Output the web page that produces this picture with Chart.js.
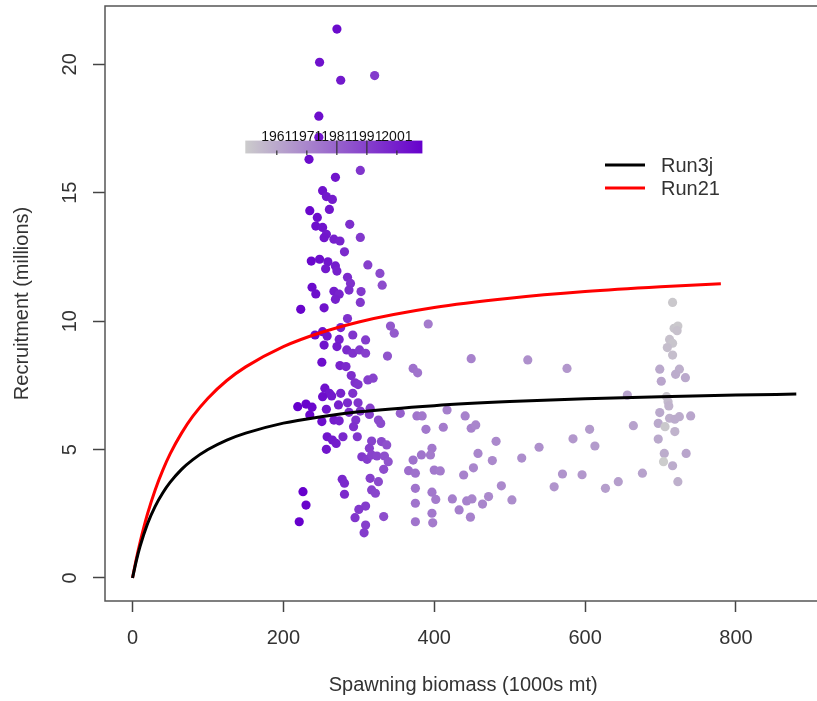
<!DOCTYPE html>
<html lang="fr">
<head>
<meta charset="utf-8">
<title>Stock-recrutement</title>
<script src="https://cdn.jsdelivr.net/npm/chart.js@4.4.1/dist/chart.umd.min.js"></script>
<style>
    html, body { margin: 0; padding: 0; background: #fff; overflow: hidden; }
    #wrap { width: 826px; height: 701px; }
</style>
</head>
<body>
<div id="wrap"><canvas id="srChart" width="826" height="701"></canvas></div>
<script>
// Données
const biomass = [
    271, 248, 276, 321, 247, 247, 234, 269, 302, 252, 257, 265, 235, 261, 245, 243, 252, 288, 257, 254,
    267, 275, 302, 281, 237, 248, 259, 256, 269, 271, 312, 328, 285, 289, 331, 238, 243, 267, 274, 269,
    287, 303, 302, 223, 254, 285, 342, 347, 242, 252, 258, 276, 292, 309, 254, 274, 271, 284, 292, 301,
    309, 338, 251, 275, 283, 290, 295, 312, 319, 372, 255, 261, 252, 276, 292, 264, 299, 219, 230, 238,
    235, 257, 273, 285, 299, 287, 302, 315, 314, 355, 251, 267, 274, 296, 293, 326, 329, 258, 265, 270,
    279, 298, 257, 317, 330, 337, 314, 304, 311, 317, 324, 334, 339, 333, 372, 366, 375, 315, 326, 278,
    281, 317, 322, 281, 375, 375, 226, 230, 221, 309, 300, 295, 333, 309, 307, 375,
    392, 378, 449, 524, 576, 377, 384, 417, 441, 389, 412, 449, 455, 482, 458, 477, 516, 539, 584, 606,
    613, 397, 395, 383, 400, 408, 439, 452, 489, 503, 559, 570, 596, 397, 402, 424, 443, 450, 464, 472,
    433, 397, 398, 448,
    716, 718, 723, 722, 712, 716, 709, 716, 699, 725, 720, 733, 701, 656, 708, 710, 711, 699, 712, 719,
    725, 740, 697, 706, 719, 664, 697, 705, 734, 704, 716, 676, 644, 627, 723
];
const recruits = [
    21.37, 20.08, 19.38, 19.56, 17.98, 17.16, 16.30, 15.60, 15.87, 15.08, 14.85, 14.74, 14.30, 14.35, 14.04, 13.70, 13.65, 13.77, 13.38, 13.25,
    13.19, 13.12, 13.26, 12.70, 12.34, 12.41, 12.31, 12.04, 12.15, 11.95, 12.19, 11.86, 11.71, 11.47, 11.40, 11.32, 11.06, 11.16, 11.05, 10.85,
    11.21, 11.15, 10.73, 10.46, 10.52, 10.10, 9.81, 9.53, 9.46, 9.59, 9.42, 9.75, 9.46, 9.27, 9.07, 9.29, 9.01, 8.88, 8.75, 8.88,
    8.75, 8.64, 8.40, 8.27, 8.23, 7.88, 7.60, 7.71, 7.78, 8.16, 7.39, 7.19, 7.06, 7.19, 7.19, 7.09, 7.53, 6.67, 6.77, 6.65,
    6.35, 6.57, 6.74, 6.82, 6.82, 6.45, 6.50, 6.61, 6.37, 6.41, 6.09, 6.15, 6.12, 6.15, 5.89, 6.15, 6.02, 5.50, 5.37, 5.24,
    5.50, 5.50, 5.01, 5.33, 5.31, 5.18, 5.05, 4.72, 4.62, 4.79, 4.75, 4.75, 4.53, 4.23, 4.59, 4.18, 4.08, 3.88, 3.75, 3.84,
    3.69, 3.43, 3.30, 3.26, 3.49, 2.91, 3.36, 2.84, 2.19, 2.80, 2.67, 2.35, 2.39, 2.06, 1.76, 2.19,
    9.89, 7.99, 8.54, 8.49, 8.16, 6.31, 6.31, 6.54, 6.31, 5.79, 5.87, 5.83, 5.96, 5.32, 4.85, 4.57, 4.67, 5.09, 5.42, 5.79,
    5.14, 5.05, 4.79, 4.79, 4.20, 4.17, 4.01, 4.29, 3.59, 3.04, 3.55, 4.05, 4.02, 3.34, 3.06, 3.08, 3.00, 3.08, 2.88, 3.17,
    2.65, 2.52, 2.15, 2.37,
    10.73, 9.72, 9.81, 9.63, 9.29, 9.14, 8.97, 8.68, 8.13, 8.13, 7.93, 7.80, 7.66, 7.12, 7.06, 6.86, 6.70, 6.44, 6.22, 6.18,
    6.28, 6.31, 6.02, 5.89, 5.70, 5.93, 5.41, 4.85, 4.85, 4.53, 4.37, 4.08, 3.75, 3.49, 3.75
];
const years = [
    2006, 2004, 2002, 1992, 2005, 2003, 2006, 2003, 1994, 2004, 2002, 2001, 2007, 2003, 2005, 2005, 2004, 1996, 2002, 2003,
    2000, 1999, 1993, 1997, 2007, 2005, 2003, 2002, 2001, 2000, 1991, 1988, 1997, 1995, 1987, 2006, 2005, 2001, 1999, 2000,
    1996, 1993, 1993, 2008, 2004, 1995, 1984, 1983, 2006, 2004, 2003, 1999, 1994, 1992, 2004, 2000, 2001, 1997, 1995, 1993,
    1991, 1985, 2005, 1999, 1997, 1996, 1995, 1991, 1990, 1977, 2004, 2002, 2005, 1999, 1995, 2002, 1994, 2009, 2008, 2007,
    2007, 2003, 2000, 1997, 1994, 1996, 1993, 1991, 1991, 1982, 2005, 2001, 2000, 1994, 1995, 1988, 1988, 2003, 2002, 2001,
    1998, 1994, 2003, 1990, 1988, 1986, 1991, 1993, 1992, 1990, 1989, 1986, 1985, 1987, 1977, 1978, 1977, 1991, 1988, 1998,
    1997, 1990, 1989, 1997, 1976, 1976, 2009, 2008, 2009, 1992, 1993, 1994, 1987, 1991, 1992, 1976,
    1974, 1976, 1972, 1968, 1966, 1976, 1975, 1973, 1972, 1975, 1974, 1972, 1971, 1970, 1971, 1970, 1969, 1968, 1966, 1965,
    1965, 1975, 1974, 1976, 1975, 1974, 1972, 1971, 1970, 1969, 1967, 1967, 1966, 1975, 1974, 1973, 1972, 1971, 1971, 1970,
    1973, 1975, 1974, 1972,
    1952, 1953, 1952, 1954, 1954, 1953, 1955, 1955, 1961, 1959, 1960, 1961, 1962, 1963, 1953, 1956, 1958, 1961, 1959, 1960,
    1960, 1962, 1961, 1952, 1958, 1963, 1961, 1960, 1962, 1951, 1960, 1963, 1964, 1964, 1959
];

// Courbes stock-recrutement
const run3jS = [0, 5, 10, 20, 30, 40, 50, 65, 80, 100, 125, 150, 200, 250, 300, 400, 500, 600, 700, 800, 880];
const run3jR = [0, 0.67, 1.23, 2.12, 2.79, 3.31, 3.73, 4.23, 4.61, 5.00, 5.37, 5.64, 6.03, 6.28, 6.47, 6.71, 6.87, 6.98, 7.06, 7.12, 7.16];
const run21S = [0, 5, 10, 20, 30, 40, 50, 65, 80, 100, 125, 150, 200, 250, 300, 400, 500, 600, 700, 780];
const run21R = [0, 0.74, 1.39, 2.51, 3.43, 4.19, 4.84, 5.64, 6.30, 7.00, 7.69, 8.22, 9.01, 9.56, 9.97, 10.53, 10.89, 11.15, 11.34, 11.46];

const xTicks = [0, 200, 400, 600, 800];
const yTicks = [0, 5, 10, 15, 20];
const yearTicks = [1961, 1971, 1981, 1991, 2001];
const yearFirst = 1951;
const yearLast = 2009;

const FONT = '"Liberation Sans", Arial, sans-serif';
const TEXT = '#333';

document.addEventListener('DOMContentLoaded', function () {
    initChart();
});

// Couleur selon l'année : gris -> violet
function yearColor(yr) {
    const t = Math.min(1, Math.max(0, (yr - yearFirst) / (yearLast - yearFirst)));
    const r = Math.round(204 - 102 * t);
    const g = Math.round(204 - 204 * t);
    return `rgb(${r}, ${g}, 204)`;
}

function toPoints(xs, ys) {
    return xs.map((x, i) => ({ x: x, y: ys[i] }));
}

// Pas de marge automatique autour des axes
function noPadding(s) {
    s.paddingTop = 0;
    s.paddingBottom = 0;
    s.paddingLeft = 0;
    s.paddingRight = 0;
}

// Cadre autour de la zone du graphique
const boxPlugin = {
    id: 'box',
    afterDatasetsDraw(chart) {
        const { ctx, chartArea: a } = chart;
        ctx.save();
        ctx.strokeStyle = '#555';
        ctx.lineWidth = 1.5;
        ctx.strokeRect(a.left, a.top, a.right - a.left, a.bottom - a.top);
        ctx.restore();
    }
};

// Barre de couleur des années
const colorBarPlugin = {
    id: 'colorBar',
    afterDatasetsDraw(chart) {
        const { ctx, scales: { x, y } } = chart;
        const left = x.getPixelForValue(149.5);
        const right = x.getPixelForValue(384.3);
        const top = y.getPixelForValue(17.03);
        const bottom = y.getPixelForValue(16.53);

        ctx.save();
        const grad = ctx.createLinearGradient(left, 0, right, 0);
        grad.addColorStop(0, yearColor(yearFirst));
        grad.addColorStop(1, yearColor(yearLast));
        ctx.fillStyle = grad;
        ctx.fillRect(left, top, right - left, bottom - top);

        const span = (yearLast + 0.5) - (yearFirst - 0.5);
        ctx.strokeStyle = '#333';
        ctx.lineWidth = 1.2;
        ctx.fillStyle = '#111';
        ctx.font = '14px ' + FONT;
        ctx.textAlign = 'center';
        ctx.textBaseline = 'alphabetic';
        yearTicks.forEach(yr => {
            const px = left + (yr - (yearFirst - 0.5)) / span * (right - left);
            const full = (yr === 1981 || yr === 1991);
            ctx.beginPath();
            ctx.moveTo(px, full ? top : bottom - 3);
            ctx.lineTo(px, bottom + 1.5);
            ctx.stroke();
            ctx.fillText(String(yr), px, top + 0.5);
        });
        ctx.restore();
    }
};

// Légende des courbes
const legendPlugin = {
    id: 'curveLegend',
    afterDraw(chart) {
        const { ctx } = chart;
        const items = chart.data.datasets.filter(d => d.showLine);
        ctx.save();
        ctx.font = '20px ' + FONT;
        ctx.textAlign = 'left';
        ctx.textBaseline = 'middle';
        items.forEach((d, i) => {
            const yy = 165 + i * 23;
            ctx.strokeStyle = d.borderColor;
            ctx.lineWidth = 3;
            ctx.beginPath();
            ctx.moveTo(605, yy);
            ctx.lineTo(645, yy);
            ctx.stroke();
            ctx.fillStyle = TEXT;
            ctx.fillText(d.label, 661, yy + 1);
        });
        ctx.restore();
    }
};

function initChart() {
    const ctx = document.getElementById('srChart').getContext('2d');

    new Chart(ctx, {
        type: 'scatter',
        data: {
            datasets: [
                {
                    label: 'Run3j',
                    data: toPoints(run3jS, run3jR),
                    showLine: true,
                    borderColor: '#000000',
                    borderWidth: 3,
                    pointRadius: 0,
                    cubicInterpolationMode: 'monotone',
                    order: 0
                },
                {
                    label: 'Run21',
                    data: toPoints(run21S, run21R),
                    showLine: true,
                    borderColor: '#ff0000',
                    borderWidth: 3,
                    pointRadius: 0,
                    cubicInterpolationMode: 'monotone',
                    order: 0
                },
                {
                    label: 'Années',
                    data: toPoints(biomass, recruits),
                    backgroundColor: years.map(yearColor),
                    pointRadius: 4.6,
                    pointBorderWidth: 0,
                    borderWidth: 0,
                    order: 2
                }
            ]
        },
        options: {
            responsive: false,
            animation: false,
            devicePixelRatio: 1,
            layout: { padding: { top: 6, right: 1, left: 0, bottom: 0 } },
            plugins: {
                legend: { display: false },
                tooltip: { enabled: false }
            },
            scales: {
                x: {
                    type: 'linear',
                    min: -36.5,
                    max: 913.3,
                    afterBuildTicks: s => { s.ticks = xTicks.map(v => ({ value: v })); },
                    afterFit: s => { s.height = 100; noPadding(s); },
                    grid: { drawOnChartArea: false, drawTicks: true, tickLength: 11, tickColor: '#444', tickWidth: 1.5 },
                    border: { display: false },
                    ticks: { font: { family: FONT, size: 20 }, color: TEXT, padding: 14, maxRotation: 0, autoSkip: false },
                    title: {
                        display: true,
                        text: 'Spawning biomass (1000s mt)',
                        font: { family: FONT, size: 20 },
                        color: TEXT,
                        padding: { top: 0, bottom: 4 }
                    }
                },
                y: {
                    type: 'linear',
                    min: -0.8955,
                    max: 22.27,
                    afterBuildTicks: s => { s.ticks = yTicks.map(v => ({ value: v })); },
                    afterFit: s => { s.width = 105; noPadding(s); },
                    grid: { drawOnChartArea: false, drawTicks: true, tickLength: 12, tickColor: '#444', tickWidth: 1.5 },
                    border: { display: false },
                    ticks: {
                        font: { family: FONT, size: 20 },
                        color: TEXT,
                        padding: 11,
                        minRotation: 90,
                        maxRotation: 90,
                        crossAlign: 'center',
                        autoSkip: false
                    },
                    title: {
                        display: true,
                        text: 'Recruitment (millions)',
                        font: { family: FONT, size: 20 },
                        color: TEXT,
                        padding: { top: 10, bottom: 0 }
                    }
                }
            }
        },
        plugins: [boxPlugin, colorBarPlugin, legendPlugin]
    });
}
</script>
</body>
</html>
